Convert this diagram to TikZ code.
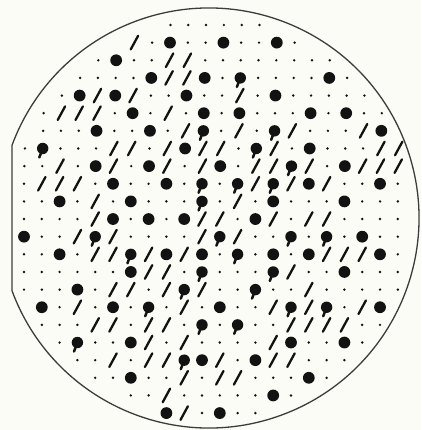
\documentclass[tikz,border=0pt]{standalone}
\definecolor{paper}{RGB}{252,252,246}
\definecolor{ink}{RGB}{18,18,18}
\definecolor{rimc}{RGB}{60,60,60}
\tikzset{
  rim/.style={draw=rimc,line width=1.3pt},
  pics/d/.style={code={\fill[ink] (0,0) circle[radius=1.35];}},
  pics/o/.style={code={\fill[ink] (0,0) circle[radius=5.9];}},
  pics/s/.style={code={\draw[ink,line width=2.3pt,line cap=round] (-3.7,-6.8) -- (3.7,6.8);}},
  pics/b/.style={code={\fill[ink] (0,0) circle[radius=5.7];
     \draw[ink,line width=2.5pt,line cap=round] (0,0) -- (-3.4,-9);}},
}
\begin{document}
\begin{tikzpicture}[x=1pt,y=1pt]
\fill[paper] (0,0) rectangle (421,-430);
\useasboundingbox (0,0) rectangle (421,-430);
\draw[rim] ({209+210*cos(200.28)},{-218+210*sin(200.28)})
   arc[start angle=200.28,end angle=519.72,radius=210] -- cycle;
\foreach \r/\s/\row in {
  0/8/{d,d,d,d,d,d},
  1/6/{s,d,o,d,d,o,d,d,o,d},
  2/4/{d,o,d,d,s,s,d,d,d,d,d,d,d,d},
  3/3/{d,d,d,d,o,s,s,o,d,b,d,d,d,d,o,d},
  4/2/{d,o,s,o,s,d,d,o,d,d,s,d,o,d,d,d,d,d},
  5/1/{d,s,s,s,d,o,d,s,d,o,d,o,d,d,d,o,d,o,d,d},
  6/1/{d,d,d,o,d,d,o,d,s,b,d,s,d,b,s,d,d,d,s,o},
  7/0/{d,b,d,d,d,s,s,d,s,o,s,s,d,b,s,d,o,d,d,d,s,s},
  8/0/{d,d,s,d,o,s,d,o,s,d,s,o,d,s,s,b,s,d,o,s,s,s},
  9/0/{d,s,s,s,d,o,d,d,o,d,b,d,b,s,b,s,o,s,d,d,o,d},
  10/0/{d,d,o,d,s,d,o,d,d,d,b,d,s,d,o,d,d,d,o,d,d,d},
  11/0/{d,d,d,d,s,o,d,o,d,o,s,s,d,o,s,d,s,s,d,d,d,d},
  12/0/{o,d,d,s,b,s,d,d,d,d,s,b,s,d,d,b,d,b,d,o,d,d},
  13/0/{d,d,o,d,s,s,b,s,o,s,o,d,b,d,o,d,o,s,s,s,o,d},
  14/0/{d,d,d,d,d,d,o,s,s,d,b,d,d,d,b,s,d,d,o,d,d,d},
  15/0/{d,d,d,o,d,s,s,d,s,b,s,d,d,b,d,d,s,d,d,d,d,d},
  16/1/{o,d,s,d,o,d,b,d,s,d,o,d,d,s,b,s,b,d,s,o},
  17/1/{d,d,d,s,s,d,s,s,d,b,d,b,d,d,s,s,s,s,d,d},
  18/2/{d,b,d,d,o,s,d,s,d,d,d,d,s,o,d,d,o,d},
  19/3/{d,d,s,d,s,s,b,o,s,d,o,s,s,d,d,d},
  20/4/{d,d,o,d,d,s,d,s,s,d,d,d,o,d},
  21/6/{d,d,s,d,d,d,d,d,o,d},
  22/8/{o,s,d,o,d,d}}{
  \pgfmathsetmacro{\shift}{0.45*max(0,9-\r)}
  \foreach \t [count=\c from \s] in \row {
    \pic at ({24+\shift+17.8*\c},{-25-17.64*\r}) {\t};
  }
}
\end{tikzpicture}
\end{document}
